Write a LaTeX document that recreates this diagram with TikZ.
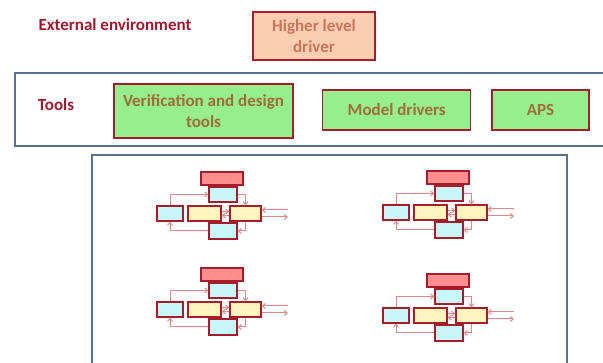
\documentclass[tikz,border=0pt]{standalone}
\usepackage{fontspec}
\setmainfont{Carlito}
\usetikzlibrary{positioning, arrows.meta, calc}

\definecolor{boxred}{HTML}{A31E2A}
\definecolor{alarmred}{HTML}{FF8E8E}
\definecolor{ctrlcyan}{HTML}{C8F6FA}
\definecolor{ctrlyellow}{HTML}{FFF3BE}
\definecolor{flowpink}{HTML}{D68A8A}
\definecolor{peach}{HTML}{FBCDB0}
\definecolor{peachtext}{HTML}{C8765E}
\definecolor{toolgreen}{HTML}{96EE8E}
\definecolor{tooltext}{HTML}{A06C3C}
\definecolor{labelred}{HTML}{A0182E}
\definecolor{framegray}{HTML}{5C6F8E}

\begin{document}
\begin{tikzpicture}[
    x=1pt, y=-1pt,
    drivebox/.style={draw=boxred, line width=1.5pt, fill=peach, text=peachtext, minimum width=122pt, minimum height=48pt, align=center, inner sep=1pt, font=\fontsize{17}{21}\selectfont\bfseries},
    toolbox/.style={draw=boxred, line width=1.5pt, fill=toolgreen, text=tooltext, minimum height=40pt, align=center, inner sep=1pt, font=\fontsize{17}{21}\selectfont\bfseries},
    frame/.style={draw=framegray, line width=1.6pt},
    label/.style={text=labelred, inner sep=0pt, font=\fontsize{17}{21}\selectfont\bfseries},
    ctrlbox/.style={draw=boxred, line width=1.3pt, inner sep=0pt, minimum height=15pt},
    flow/.style={-{Straight Barb[length=3pt,width=5pt]}, draw=flowpink, line width=1pt}
]
    \useasboundingbox (0,0) rectangle (603,363);
    \clip (0,0) rectangle (603,363);

    % small control loop, placed four times
    \tikzset{
        ctrlloop/.pic={
            \node[ctrlbox, fill=alarmred, minimum width=42pt, minimum height=13pt, line width=1.6pt] (-alarm) at (21,6.5) {};
            \node[ctrlbox, fill=ctrlcyan, minimum width=28pt] (-sense) at (22,22.5) {};
            \node[ctrlbox, fill=ctrlcyan, minimum width=26pt] (-input) at (-31,41.5) {};
            \node[ctrlbox, fill=ctrlyellow, minimum width=33pt] (-ctrl) at (3.5,41.5) {};
            \node[ctrlbox, fill=ctrlyellow, minimum width=31pt] (-plant) at (44.5,41.5) {};
            \node[ctrlbox, fill=ctrlcyan, minimum width=28pt, minimum height=16pt] (-act) at (22,59) {};
            \coordinate (-in) at (87,38);
            \coordinate (-out) at (87,45);

            \draw[flow] (-input.north) |- (-sense.west);
            \draw[flow] (-sense.east) -| (-plant.north);
            \draw[flow] (-plant.south) |- (-act.east);
            \draw[flow] (-act.west) -| (-input.south);
            \draw[flow] ([yshift=2pt]-ctrl.east) -- ([yshift=2pt]-plant.west);
            \draw[flow] ([yshift=-2pt]-plant.west) -- ([yshift=-2pt]-ctrl.east);
            \draw[flow] (-in) -- ([yshift=3.5pt]-plant.east);
            \draw[flow] ([yshift=-3.5pt]-plant.east) -- (-out);
        }
    }

    % ================= EXTERNAL ENVIRONMENT =================
    \node[label] (extlabel) at (115,25) {External environment};
    \node[drivebox] (driver) at (314,36) {Higher level\\driver};

    % ================= TOOLS =================
    \draw[frame] (15,73) rectangle (615,146);
    \node[label] (toolslabel) at (56,105) {Tools};
    \node[toolbox, minimum width=179pt, minimum height=54pt] (verif) at (203.5,111) {Verification and design\\tools};
    \node[toolbox, minimum width=148pt] (models) at (396.7,110) {Model drivers};
    \node[toolbox, minimum width=97pt] (aps) at (540.5,110) {APS};

    % ================= CONTROL LOOPS =================
    \draw[frame] (92,155) rectangle (567,380);
    \pic (tl) at (201,172) {ctrlloop};
    \pic (tr) at (427,171) {ctrlloop};
    \pic (bl) at (201,268) {ctrlloop};
    \pic (br) at (427,274) {ctrlloop};

\end{tikzpicture}
\end{document}
